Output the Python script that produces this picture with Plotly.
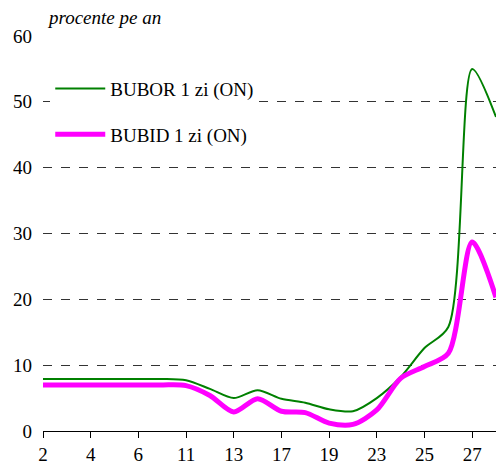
import plotly.graph_objects as go

days = ['2', '3', '4', '5', '6', '10', '11', '12', '13', '16',
        '17', '18', '19', '20', '23', '24', '25', '26', '27', '30']
bubor = [7.9, 7.9, 7.9, 7.9, 7.9, 7.9, 7.7, 6.4, 5.0, 6.2,
         4.9, 4.3, 3.3, 3.0, 5.0, 8.2, 12.6, 15.8, 55.0, 47.7]
bubid = [7.0, 7.0, 7.0, 7.0, 7.0, 7.0, 6.9, 5.4, 2.9, 4.9,
         3.0, 2.8, 1.2, 1.0, 3.2, 8.0, 9.8, 11.8, 28.7, 20.3]
shown_ticks = days[0::2]

font = 'Liberation Serif'

fig = go.Figure()
fig.add_trace(go.Scatter(x=days, y=bubor, mode='lines', name='BUBOR 1 zi (ON)',
                         line=dict(color='#008000', width=2, shape='spline', smoothing=0.8),
                         legendgroup='a'))
fig.add_trace(go.Scatter(x=days, y=bubid, mode='lines', name='BUBID 1 zi (ON)',
                         line=dict(color='#ff00ff', width=5, shape='spline', smoothing=0.8),
                         legendgroup='b'))

fig.update_layout(
    width=496, height=466,
    margin=dict(l=43, r=0, t=36, b=35),
    paper_bgcolor='white', plot_bgcolor='white',
    font=dict(family=font, size=19, color='black'),
    showlegend=True,
    legend=dict(x=0.016, y=0.915, xanchor='left', yanchor='top',
                bgcolor='white', borderwidth=0, tracegroupgap=18,
                itemwidth=50, font=dict(family=font, size=19)),
    xaxis=dict(type='category', range=[0, len(days) - 1],
               tickvals=shown_ticks, ticktext=shown_ticks,
               showline=True, linecolor='black', linewidth=1,
               ticks='outside', ticklen=6, tickcolor='black',
               showgrid=False, tickfont=dict(family=font, size=19)),
    yaxis=dict(range=[0, 60], dtick=10, showline=False, zeroline=False,
               showgrid=True, gridcolor='#333333', griddash='dash', gridwidth=1,
               ticks='', ticklabelstandoff=10, tickfont=dict(family=font, size=19)),
)

fig.add_annotation(text='<i>procente pe an</i>', xref='paper', yref='paper',
                   x=0.004, y=1.048, xanchor='left', yanchor='middle',
                   showarrow=False, font=dict(family=font, size=19))

fig.write_html('out.html', config={'displayModeBar': False},
               post_script="document.body.style.margin='0';")
